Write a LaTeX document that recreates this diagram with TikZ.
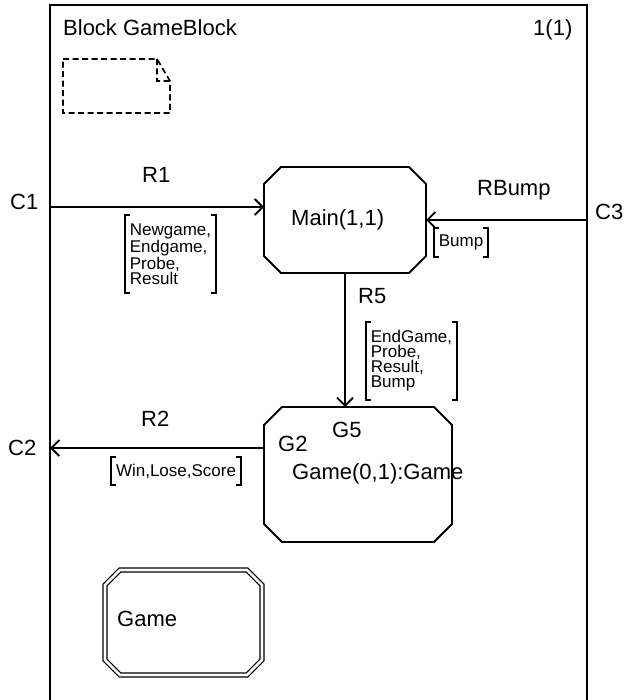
\documentclass[tikz,border=0pt]{standalone}
\usepackage{fontspec}
\setmainfont{Liberation Sans}
\usepackage{tikz}
\usetikzlibrary{positioning, arrows.meta, calc}
\newcommand{\lblfont}{\fontsize{22}{26}\selectfont}
\newcommand{\sigfont}{\fontsize{17}{15}\selectfont}
\newcommand{\octbox}[3][]{%
  \draw[#1] ([xshift=#3]#2.north west) -- ([xshift=-#3]#2.north east) -- ([yshift=-#3]#2.north east)
    -- ([yshift=#3]#2.south east) -- ([xshift=-#3]#2.south east) -- ([xshift=#3]#2.south west)
    -- ([yshift=#3]#2.south west) -- ([yshift=-#3]#2.north west) -- cycle;}
\newcommand{\sigbrackets}[1]{%
  \draw[brk] ([xshift=5pt]#1.north west) -- (#1.north west) -- (#1.south west) -- ([xshift=5pt]#1.south west)
    ([xshift=-5pt]#1.north east) -- (#1.north east) -- (#1.south east) -- ([xshift=-5pt]#1.south east);}

\begin{document}
\begin{tikzpicture}[
      x=1pt, y=-1pt,
      every node/.style={font=\lblfont, inner sep=0pt},
      lbl/.style={anchor=base west},
      area/.style={inner sep=0pt, outer sep=0pt},
      sig/.style={font=\sigfont, align=left, inner xsep=5pt, inner ysep=0pt},
      brk/.style={line width=1.9pt},
      box/.style={line width=1.9pt},
      frame/.style={line width=2.4pt},
      note/.style={line width=1.7pt, dash pattern=on 6pt off 3.5pt},
      conn/.style={line width=1.9pt, -{Straight Barb[length=8pt, width=16pt]}},
  ]
    \useasboundingbox (0,0) rectangle (635,700);

    \draw[frame] (50,704) |- (587,5) -- (587,704);
    \node[lbl] (title) at (63,35.5) {Block GameBlock};
    \node[lbl] (page) at (533,36) {1(1)};
    \draw[note] (63,59) -- (157,59) -- (170,81) -- (170,113) -- (63,113) -- cycle
      (157,59) -- (157,81) -- (170,81);

    \coordinate (c1) at (50,207);
    \coordinate (c2) at (50,448);
    \coordinate (c3) at (587,220);
    \node[lbl] (c1lbl) at (10,210) {C1};
    \node[lbl] (c2lbl) at (8,455) {C2};
    \node[lbl] (c3lbl) at (595,220) {C3};

    \node[area, minimum width=162pt, minimum height=106pt] (main) at (345,220) {};
    \node[area, minimum width=188pt, minimum height=135pt] (game) at (358,474.5) {};
    \node[area, minimum width=157pt, minimum height=105pt] (gtype) at (183.5,622.5) {};
    \octbox[box]{main}{17pt}
    \octbox[box]{game}{18pt}
    \octbox[box, double, double distance=2.6pt, line width=1.3pt]{gtype}{15pt}

    \node[lbl] (mainlbl) at (291,226) {Main(1,1)};
    \node[lbl] (gamelbl) at (292,479) {Game(0,1):Game};
    \node[lbl] (gtypelbl) at (117,626) {Game};
    \node[lbl] (g5) at (332,437) {G5};
    \node[lbl] (g2) at (278,451) {G2};

    \draw[conn] (c1) -- (c1 -| main.west);
    \draw[conn] (c3) -- (main.east);
    \draw[conn] (main.south) -- (main.south |- game.north);
    \draw[conn] (game.west |- c2) -- (c2);

    \node[lbl] (r1) at (142,183) {R1};
    \node[lbl] (rbump) at (477,196) {RBump};
    \node[lbl] (r5) at (358,303) {R5};
    \node[lbl] (r2) at (141,426) {R2};

    \node[sig, minimum height=78pt] (r1sig) at (170.5,254) {Newgame,\\Endgame,\\Probe,\\Result};
    \node[sig, minimum height=29pt] (rbumpsig) at (461,242.5) {Bump};
    \node[sig, minimum height=78pt] (r5sig) at (411.5,361) {EndGame,\\Probe,\\Result,\\Bump};
    \node[sig, minimum height=28pt] (r2sig) at (176,471) {Win,Lose,Score};
    \sigbrackets{r1sig}
    \sigbrackets{rbumpsig}
    \sigbrackets{r5sig}
    \sigbrackets{r2sig}
  \end{tikzpicture}
\end{document}
